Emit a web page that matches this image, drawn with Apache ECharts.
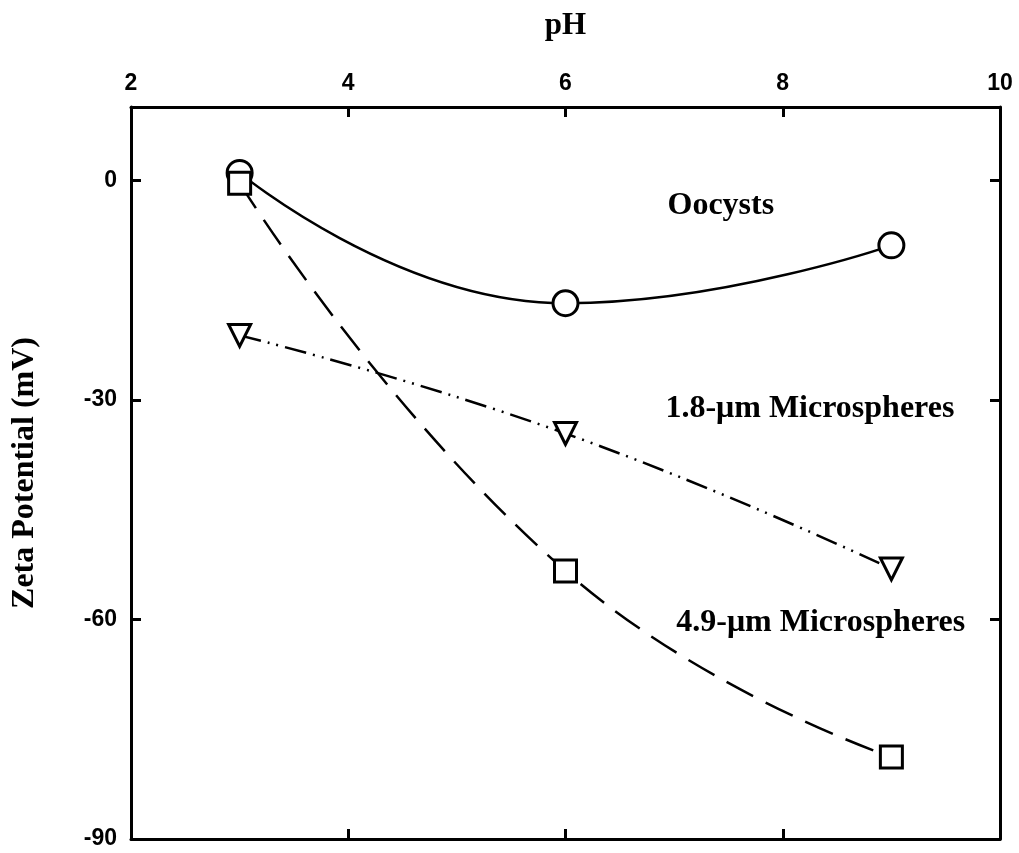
<!DOCTYPE html>
<html>
<head>
<meta charset="utf-8">
<script src="https://cdn.jsdelivr.net/npm/echarts@6/dist/echarts.min.js"></script>
<style>
html, body { margin: 0; padding: 0; background: #fff; }
#chart { width: 1019px; height: 853px; }
</style>
</head>
<body>
<div id="chart"></div>
<script>
// pH values
const phValues = [3, 6, 9];
// zeta potential (mV)
const oocysts = [1, -16.8, -8.9];
const micro49 = [-0.4, -53.4, -78.8];
const micro18 = [-21.2, -34.6, -53.1];
// annotation labels [pH, mV, text]
const notes = [
    [7.43, -3.5, 'Oocysts'],
    [8.25, -31.2, '1.8-\u03bcm Microspheres'],
    [8.35, -60.5, '4.9-\u03bcm Microspheres']
];

const serif = '"Liberation Serif", "Times New Roman", serif';
const sans = '"Liberation Sans", Arial, sans-serif';

function pairs(ys) {
    return phValues.map((x, i) => [x, ys[i]]);
}

const chart = echarts.init(document.getElementById('chart'));

const axisLine = { show: true, onZero: false, lineStyle: { color: '#000', width: 3 } };
const axisTick = { show: true, inside: true, length: 10, lineStyle: { color: '#000', width: 3 } };

const option = {
    animation: false,
    backgroundColor: '#fff',
    grid: { left: 131, right: 19, top: 107, bottom: 14 },
    xAxis: [
        {
            type: 'value', position: 'top', min: 2, max: 10, interval: 2,
            name: 'pH', nameLocation: 'middle', nameGap: 66,
            nameTextStyle: { fontFamily: serif, fontWeight: 'bold', fontSize: 31, color: '#000' },
            axisLine: axisLine, axisTick: axisTick,
            axisLabel: { fontFamily: sans, fontWeight: 'bold', fontSize: 23, color: '#000', margin: 12 },
            splitLine: { show: false }
        },
        {
            type: 'value', position: 'bottom', min: 2, max: 10, interval: 2,
            axisLine: axisLine, axisTick: axisTick,
            axisLabel: { show: false }, splitLine: { show: false }
        }
    ],
    yAxis: [
        {
            type: 'value', position: 'left', min: -90, max: 10, interval: 30,
            name: 'Zeta Potential (mV)', nameLocation: 'middle', nameGap: 90,
            nameTextStyle: { fontFamily: serif, fontWeight: 'bold', fontSize: 32, color: '#000' },
            axisLine: axisLine, axisTick: axisTick,
            axisLabel: {
                fontFamily: sans, fontWeight: 'bold', fontSize: 23, color: '#000', margin: 14,
                formatter: v => (v > 0 ? '' : String(v))
            },
            splitLine: { show: false }
        },
        {
            type: 'value', position: 'right', min: -90, max: 10, interval: 30,
            axisLine: axisLine, axisTick: axisTick,
            axisLabel: { show: false }, splitLine: { show: false }
        }
    ],
    series: [
        {
            name: 'Oocysts', type: 'line', smooth: 0.5, data: pairs(oocysts),
            symbol: 'circle', symbolSize: 25,
            lineStyle: { color: '#000', width: 2.5 },
            itemStyle: { color: '#fff', borderColor: '#000', borderWidth: 3 },
            z: 3
        },
        {
            name: '4.9-\u03bcm Microspheres', type: 'line', smooth: 0.5, data: pairs(micro49),
            symbol: 'rect', symbolSize: 22,
            lineStyle: { color: '#000', width: 2.5, type: [30, 14] },
            itemStyle: { color: '#fff', borderColor: '#000', borderWidth: 3 },
            z: 4
        },
        {
            name: '1.8-\u03bcm Microspheres', type: 'line', smooth: 0.5, data: pairs(micro18),
            symbol: 'triangle', symbolRotate: 180, symbolSize: 22,
            lineStyle: { color: '#000', width: 2.5, type: [22, 7, 2, 7, 2, 7] },
            itemStyle: { color: '#fff', borderColor: '#000', borderWidth: 3 },
            z: 3
        },
        {
            type: 'scatter', data: notes, symbolSize: 0, silent: true,
            itemStyle: { opacity: 1, color: '#000' },
            label: {
                show: true, position: 'inside', formatter: p => p.data[2], opacity: 1,
                fontFamily: serif, fontWeight: 'bold', fontSize: 32, color: '#000'
            }
        }
    ]
};

chart.setOption(option);
</script>
</body>
</html>
